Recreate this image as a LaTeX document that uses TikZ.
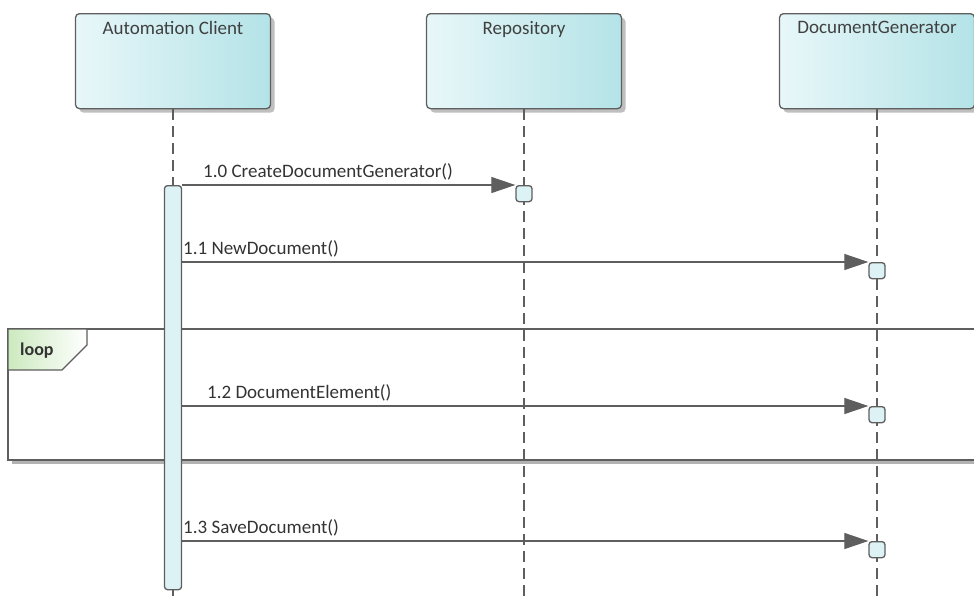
\documentclass[tikz,border=0pt]{standalone}
\usepackage{fontspec}
\setmainfont{Carlito}
\usepackage{tikz}
\usetikzlibrary{arrows.meta}
\usetikzlibrary{shadows}

\definecolor{edgegray}{HTML}{5E5E5E}
\definecolor{lifeleft}{HTML}{E8F7F9}
\definecolor{liferight}{HTML}{B4E3E7}
\definecolor{actfill}{HTML}{DCF2F4}
\definecolor{loopgreen}{HTML}{CCEABF}

\tikzset{
  lifebox/.style={draw=edgegray, line width=1.3pt, rounded corners=4pt,
    left color=lifeleft, right color=liferight, anchor=north,
    minimum width=195pt, minimum height=95pt,
    drop shadow={shadow xshift=4pt, shadow yshift=-4pt, fill=gray!50, opacity=1},
    label={[anchor=north, yshift=-5pt, text=black!75]north:#1}},
  lifeline/.style={draw=edgegray, line width=1.5pt, dash pattern=on 11pt off 6pt},
  actbox/.style={draw=edgegray, line width=1.3pt, fill=actfill, rounded corners=3pt,
    anchor=north, minimum width=16pt, minimum height=16pt, inner sep=0pt},
  msg/.style={draw=edgegray, line width=1.2pt, -{Triangle[length=24pt, width=16pt]}},
  msgtext/.style={anchor=base west, inner sep=0pt, text=black!80}
}

\begin{document}
\begin{tikzpicture}[x=1pt, y=-1pt, font=\fontsize{19}{22}\selectfont]
\useasboundingbox (0,0) rectangle (974,597);

% loop frame
\fill[gray!60] (12,333) rectangle (990,464);
\draw[edgegray, line width=1.5pt, fill=white] (8,329) rectangle (986,460);
\draw[edgegray, line width=1.3pt, left color=loopgreen, right color=white]
  (8,329) -- (87,329) -- (87,345) -- (62,370) -- (8,370) -- cycle;
\node[anchor=base west, inner sep=0pt, font=\fontsize{18}{22}\selectfont\bfseries, text=black!80] (looplbl) at (20,355) {loop};

% lifelines
\node[lifebox=Automation Client] (client) at (173,13) {};
\node[lifebox=Repository] (repo) at (524,13) {};
\node[lifebox=DocumentGenerator] (docgen) at (877,13) {};

\coordinate (clientend) at (173,597);
\coordinate (repoend) at (524,597);
\coordinate (docgenend) at (877,597);
\draw[lifeline] (client.south) -- (clientend);
\draw[lifeline] (repo.south) -- (repoend);
\draw[lifeline] (docgen.south) -- (docgenend);

% activations
\node[actbox, minimum width=17pt, minimum height=404pt] (clientact) at (173,185) {};
\node[actbox] (act0) at (524,185) {};
\node[actbox] (act1) at (877,262) {};
\node[actbox] (act2) at (877,406) {};
\node[actbox] (act3) at (877,541) {};

% messages
\draw[msg] (clientact.east |- act0.north) -- (act0.north west);
\draw[msg] (clientact.east |- act1.north) -- (act1.north west);
\draw[msg] (clientact.east |- act2.north) -- (act2.north west);
\draw[msg] (clientact.east |- act3.north) -- (act3.north west);
\node[msgtext] (m0) at (203,177) {1.0 CreateDocumentGenerator()};
\node[msgtext] (m1) at (183,254) {1.1 NewDocument()};
\node[msgtext] (m2) at (207,398) {1.2 DocumentElement()};
\node[msgtext] (m3) at (183,533) {1.3 SaveDocument()};
\end{tikzpicture}
\end{document}
